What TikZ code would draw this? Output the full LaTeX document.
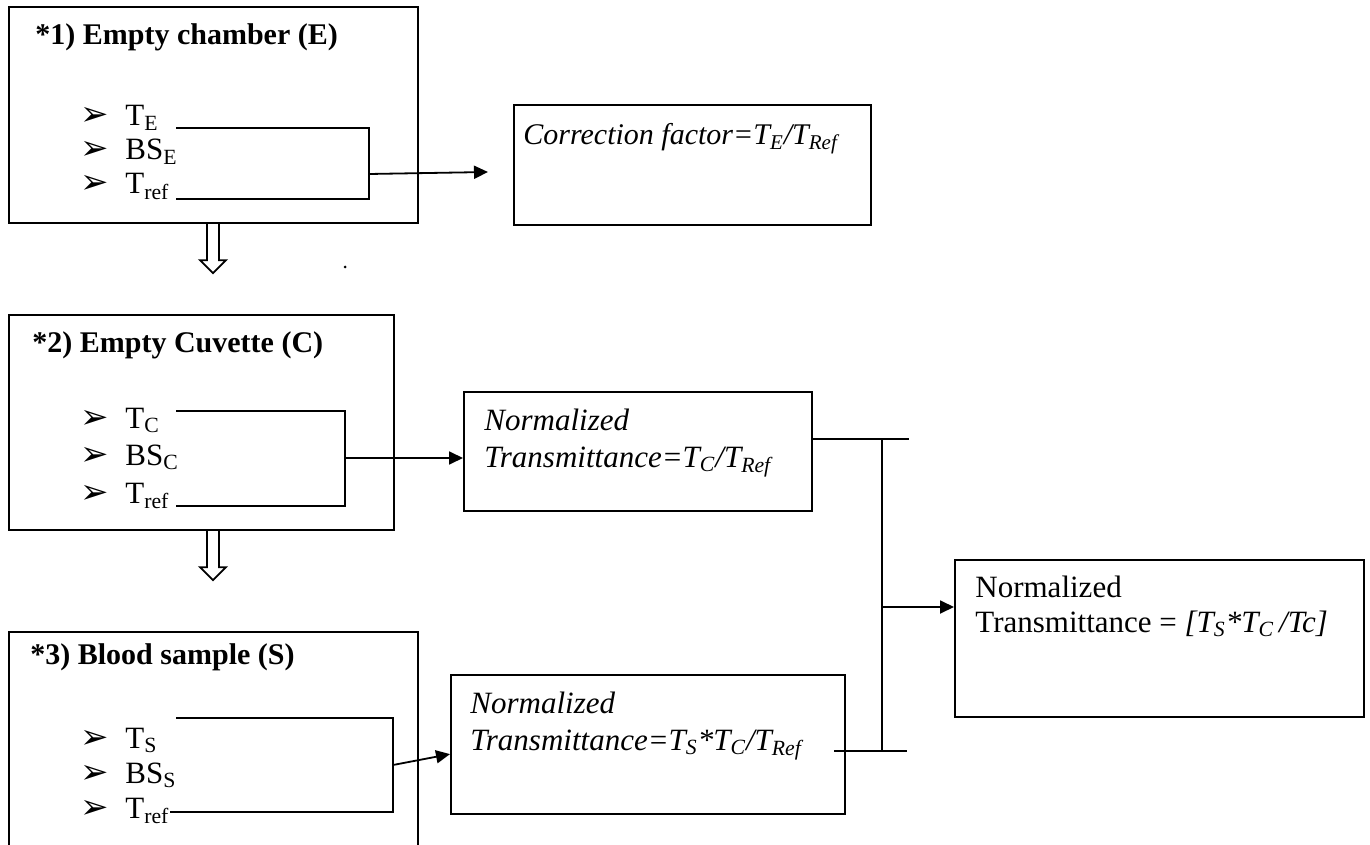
\documentclass[tikz,border=0pt]{standalone}
\usepackage{fontspec}
\setmainfont{Liberation Serif}
\newfontfamily\dingfont{DejaVu Sans}
\usepackage{tikz}
\usetikzlibrary{arrows.meta}
\newcommand{\listentry}[1]{\makebox[22.5pt][l]{\dingfont\fontsize{17}{17}\selectfont ➢}#1}

\begin{document}
\begin{tikzpicture}[
    x=0.5pt, y=-0.5pt,
    every node/.style={font=\fontsize{15.5}{18}\selectfont},
    box/.style={
      draw,
      line width=1.1pt,
      inner sep=0pt,
      anchor=north west
    },
    title/.style={anchor=base west, inner sep=0pt, font=\fontsize{15}{18}\selectfont\bfseries},
    item/.style={anchor=base west, inner sep=0pt},
    formula/.style={anchor=base west, inner sep=0pt, font=\fontsize{15.5}{18}\selectfont\itshape},
    link/.style={line width=0.9pt},
    arrow/.style={link, -{Triangle[length=7pt,width=6.5pt]}},
    hollow/.style={draw, line width=0.9pt, fill=white}
  ]
    \useasboundingbox (0,0) rectangle (1370,845);

    \node[box, minimum width=204.5pt, minimum height=108pt] (chamber) at (8,6) {};
    \node[title] (chamber-title) at (35,45) {*1) Empty chamber (E)};
    \node[item] (chamber-t) at (80,126) {\listentry{T\textsubscript{E}}};
    \node[item] (chamber-bs) at (80,160) {\listentry{BS\textsubscript{E}}};
    \node[item] (chamber-ref) at (80,194) {\listentry{T\textsubscript{ref}}};

    \node[box, minimum width=192.5pt, minimum height=107.5pt] (cuvette) at (8,314) {};
    \node[title] (cuvette-title) at (32,352) {*2) Empty Cuvette (C)};
    \node[item] (cuvette-t) at (80,428) {\listentry{T\textsubscript{C}}};
    \node[item] (cuvette-bs) at (80,465) {\listentry{BS\textsubscript{C}}};
    \node[item] (cuvette-ref) at (80,503) {\listentry{T\textsubscript{ref}}};

    \node[box, minimum width=204.5pt, minimum height=110.5pt] (sample) at (8,631) {};
    \node[title] (sample-title) at (30,664) {*3) Blood sample (S)};
    \node[item] (sample-t) at (80,748) {\listentry{T\textsubscript{S}}};
    \node[item] (sample-bs) at (80,783) {\listentry{BS\textsubscript{S}}};
    \node[item] (sample-ref) at (80,818) {\listentry{T\textsubscript{ref}}};

    \node[box, minimum width=178.5pt, minimum height=60pt] (correction) at (513,104) {};
    \node[formula, font=\fontsize{15}{18}\selectfont\itshape] (correction-text) at (523,145)
      {Correction factor=T\textsubscript{E}/T\textsubscript{Ref}};

    \node[box, minimum width=174pt, minimum height=59.5pt] (norm-c) at (463,391) {};
    \node[formula] (norm-c-top) at (484,430) {Normalized};
    \node[formula] (norm-c-bot) at (484,467)
      {Transmittance=T\textsubscript{C}/T\textsubscript{Ref}};

    \node[box, minimum width=197pt, minimum height=69.5pt] (norm-s) at (450,674) {};
    \node[formula] (norm-s-top) at (470,713) {Normalized};
    \node[formula] (norm-s-bot) at (470,750)
      {Transmittance=T\textsubscript{S}*T\textsubscript{C}/T\textsubscript{Ref}};

    \node[box, minimum width=204.5pt, minimum height=78.5pt] (result) at (954,559) {};
    \node[item] (result-top) at (975,597) {Normalized};
    \node[item] (result-bot) at (975,632)
      {Transmittance = \textit{[T\textsubscript{S}*T\textsubscript{C}\,/Tc]}};

    \coordinate (chamber-top) at (176,128);
    \coordinate (chamber-bot) at (176,199);
    \coordinate (chamber-join) at (369,174);
    \coordinate (correction-tip) at (488,172);
    \coordinate (cuvette-top) at (176,411);
    \coordinate (cuvette-bot) at (176,506);
    \coordinate (cuvette-join) at (345,458);
    \coordinate (sample-top) at (176,718);
    \coordinate (sample-bot) at (170,812);
    \coordinate (sample-join) at (393,765);
    \coordinate (bus-top) at (882,439);
    \coordinate (bus-mid) at (882,607);
    \coordinate (bus-bot) at (882,751);

    \draw[link] (chamber-top) -| (chamber-join) |- (chamber-bot);
    \draw[link] (cuvette-top) -| (cuvette-join) |- (cuvette-bot);
    \draw[link] (sample-top) -| (sample-join) |- (sample-bot);

    \draw[arrow] (chamber-join) -- (correction-tip);
    \draw[arrow] (cuvette-join) -- (norm-c.west |- cuvette-join);
    \draw[arrow] (sample-join) -- ([yshift=-4.75pt]norm-s.west);

    \draw[link] (norm-c.east |- bus-top) -- ++(96,0);
    \draw[link] (bus-top) -- (bus-bot);
    \draw[link] ([xshift=-24pt]bus-bot) -- ++(73,0);
    \draw[arrow] (bus-mid) -- (result.west |- bus-mid);

    \foreach \b in {chamber,cuvette}
      \draw[hollow] (\b.south west) ++(199,0) -- ++(0,36) -- ++(-7,0)
        -- ++(13,13) -- ++(13,-13) -- ++(-7,0) -- ++(0,-36);

    \fill (345,267) circle[radius=1.5];
  \end{tikzpicture}
\end{document}
